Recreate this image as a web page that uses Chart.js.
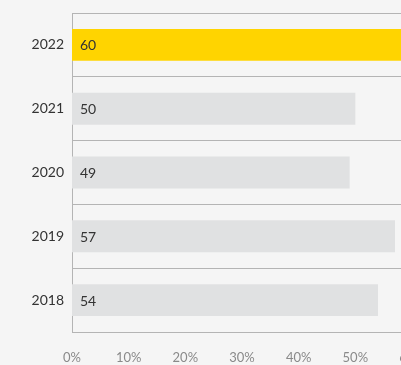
<!DOCTYPE html>
<html>
<head>
<meta charset="utf-8">
<script src="https://cdn.jsdelivr.net/npm/chart.js@4"></script>
<style>
  html, body { margin: 0; padding: 0; background: #f5f5f5; overflow: hidden; }
  #wrap { width: 432px; height: 365px; }
</style>
</head>
<body>
<div id="wrap"><canvas id="chart-anos"></canvas></div>
<script>
// datos
const anos = ['2022', '2021', '2020', '2019', '2018']
const valores = [60, 50, 49, 57, 54]
const colores = ['#ffd400', '#e0e1e2', '#e0e1e2', '#e0e1e2', '#e0e1e2']
const xTicks = [0, 10, 20, 30, 40, 50, 60]

// dibuja el valor dentro de cada barra
const etiquetas = {
  id: 'etiquetas',
  afterDatasetsDraw(chart) {
    const ctx = chart.ctx
    const meta = chart.getDatasetMeta(0)
    ctx.save()
    ctx.font = '14px Lato'
    ctx.fillStyle = '#333333'
    ctx.textAlign = 'left'
    ctx.textBaseline = 'middle'
    meta.data.forEach((bar, i) => {
      ctx.fillText(valores[i], bar.base + 8, bar.y + 1)
    })
    ctx.restore()
  }
}

let chart
window.addEventListener('load', () => {
  chart = new Chart(document.getElementById('chart-anos'), {
    type: 'bar',
    data: {
      labels: anos,
      datasets: [{
        data: valores,
        backgroundColor: colores,
        borderWidth: 0,
        barPercentage: 0.5,
        categoryPercentage: 1
      }]
    },
    plugins: [etiquetas],
    options: {
      indexAxis: 'y',
      responsive: true,
      maintainAspectRatio: false,
      animation: false,
      layout: { padding: { top: 13, left: 0, right: 20, bottom: 0 } },
      plugins: {
        legend: { display: false },
        tooltip: { enabled: false }
      },
      scales: {
        x: {
          min: 0,
          max: 60,
          afterBuildTicks: (scale) => { scale.ticks = xTicks.map(v => ({ value: v })) },
          afterFit: (scale) => {
            scale.height = 33
            scale.paddingLeft = 0
            scale.paddingRight = 0
          },
          grid: { display: false },
          border: { display: true, color: '#b4b4b4', width: 1 },
          ticks: {
            padding: 10,
            autoSkip: false,
            maxRotation: 0,
            color: '#8a8a8a',
            font: { family: 'Lato', size: 13 },
            callback: (v) => v + '%'
          }
        },
        y: {
          afterFit: (scale) => {
            scale.width = 72
            scale.paddingTop = 0
            scale.paddingBottom = 0
          },
          grid: { offset: true, color: '#b4b4b4', drawTicks: false, lineWidth: 1 },
          border: { display: true, color: '#b4b4b4', width: 1 },
          ticks: {
            padding: 8,
            color: '#333333',
            font: { family: 'Lato', size: 14 }
          }
        }
      }
    }
  })
})
</script>
</body>
</html>
